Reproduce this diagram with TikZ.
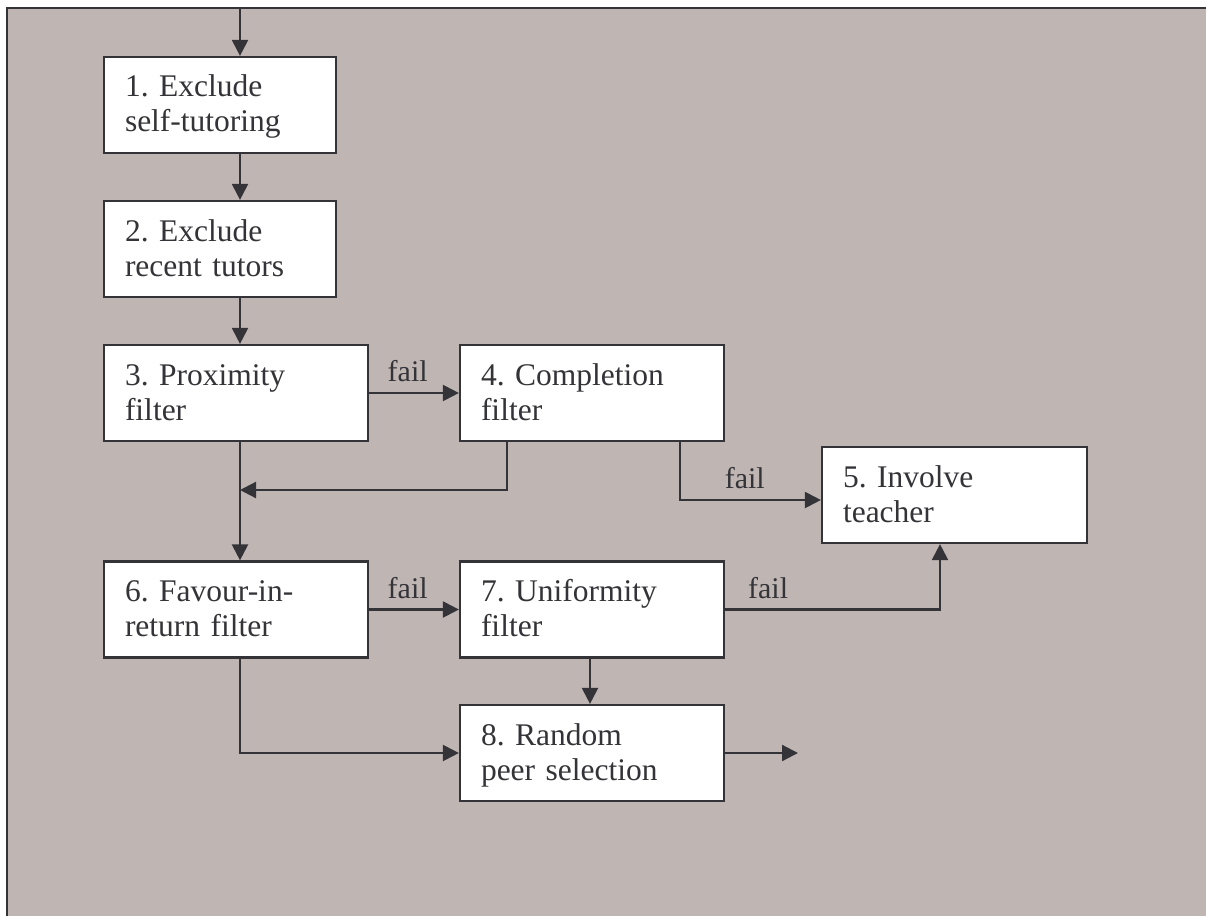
\documentclass[tikz,border=0pt]{standalone}
\usepackage{fontspec}
\setmainfont{Liberation Serif}
\usetikzlibrary{arrows.meta}
\definecolor{bgc}{RGB}{191,182,180}
\definecolor{ink}{RGB}{52,52,56}
\frenchspacing
\newcommand\bxt[2]{\rule{0pt}{26pt}#1\\#2\rule[-7pt]{0pt}{7pt}}
\tikzset{
  stepbox/.style={draw=ink, line width=2.2pt, fill=white, text=ink,
    font=\fontsize{31.5}{35}\selectfont\frenchspacing, align=left,
    inner xsep=21pt, inner ysep=0pt, minimum height=96pt},
  conn/.style={draw=ink, line width=2.2pt, -{Triangle[length=16pt,width=16pt]}},
  flabel/.style={text=ink, font=\fontsize{30}{34}\selectfont, inner sep=0pt, above=10pt}
}
\begin{document}
\begin{tikzpicture}[x=1pt,y=-1pt]
\useasboundingbox (0,0) rectangle (1206,915);
\fill[bgc] (7,8) rectangle (1210,920);
\draw[ink, line width=2.4pt] (1210,8) -- (7,8) -- (7,920);

\node[stepbox, text width=190pt] (b1) at (220,105) {\bxt{1. Exclude}{self-tutoring}};
\node[stepbox, text width=190pt] (b2) at (220,249) {\bxt{2. Exclude}{recent tutors}};
\node[stepbox, text width=222pt] (b3) at (236,393) {\bxt{3. Proximity}{filter}};
\node[stepbox, text width=222pt] (b4) at (592,393) {\bxt{4. Completion}{filter}};
\node[stepbox, text width=223pt] (b5) at (954.5,495) {\bxt{5. Involve}{teacher}};
\node[stepbox, text width=222pt] (b6) at (236,609.5) {\bxt{6. Favour-in-}{return filter}};
\node[stepbox, text width=222pt] (b7) at (592,609.5) {\bxt{7. Uniformity}{filter}};
\node[stepbox, text width=222pt] (b8) at (592,753) {\bxt{8. Random}{peer selection}};

\coordinate (top) at (240,8);
\coordinate (j) at (240,490);
\coordinate (c4l) at (507,0);
\coordinate (c4r) at (680,0);
\coordinate (c5) at (940,0);
\coordinate (c7) at (590,0);
\coordinate (out) at (798,753);

\draw[conn] (top) -- (top |- b1.north);
\draw[conn] (b1.south -| top) -- (b2.north -| top);
\draw[conn] (b2.south -| top) -- (b3.north -| top);
\draw[conn] (b3.east) -- node[flabel, pos=0.43] {fail} (b4.west);
\draw[conn] (b3.south -| top) -- (b6.north -| top);
\draw[conn] (b4.south -| c4l) |- (j);
\draw[conn] (b4.south -| c4r) |- node[flabel, pos=0.73] {fail} ([yshift=-5pt]b5.west);
\draw[conn] (b6.east) -- node[flabel, pos=0.43] {fail} (b7.west);
\draw[conn] (b7.east) -| node[flabel, pos=0.1] {fail} (b5.south -| c5);
\draw[conn] (b7.south -| c7) -- (b8.north -| c7);
\draw[conn] (b6.south -| top) |- (b8.west);
\draw[conn] (b8.east) -- (out);
\end{tikzpicture}
\end{document}
